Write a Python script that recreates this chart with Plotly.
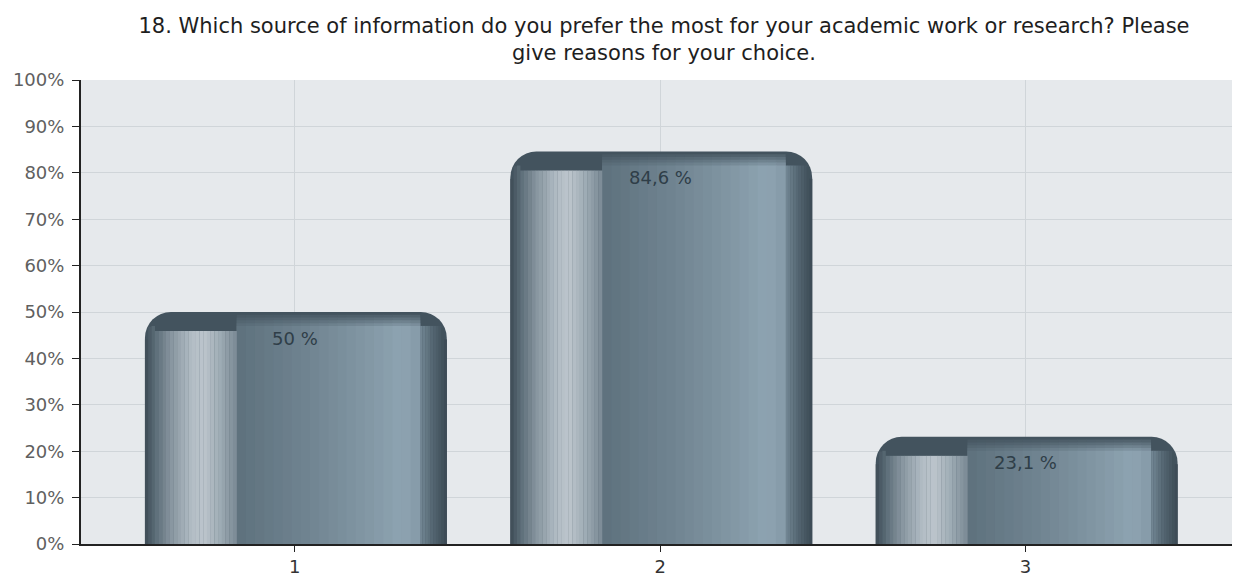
import math
import plotly.graph_objects as go

# data
categories = ["1", "2", "3"]
x_pos = [1, 2, 3]
percent = [50.0, 84.6, 23.1]
y_ticks = [0, 10, 20, 30, 40, 50, 60, 70, 80, 90, 100]
y_tick_text = [f"{v}%" for v in y_ticks]

title = ("18. Which source of information do you prefer the most for your academic work or research? Please"
         "<br>give reasons for your choice.")

FONT = "DejaVu Sans, Liberation Sans, Arial, sans-serif"
BASE = "#43535e"
PX_X = 365.5   # pixels per category step
PX_Y = 4.64    # pixels per percent
RADIUS = 26    # bar corner radius in px
BAR_L, BAR_R = -0.41, 0.416


def hex2rgb(h):
    h = h.lstrip("#")
    return [int(h[i:i + 2], 16) for i in (0, 2, 4)]


def blend(stops, t, dark=0.0):
    for (p0, c0), (p1, c1) in zip(stops[:-1], stops[1:]):
        if p0 <= t <= p1:
            f = (t - p0) / (p1 - p0) if p1 > p0 else 0
            a, b = hex2rgb(c0), hex2rgb(c1)
            c = [a[i] + (b[i] - a[i]) * f for i in range(3)]
            break
    else:
        c = hex2rgb(stops[-1][1])
    k = hex2rgb(BASE)
    c = [c[i] + (k[i] - c[i]) * dark for i in range(3)]
    return "rgb(%d,%d,%d)" % tuple(round(v) for v in c)


def round_drop(xa, xb, cx, r):
    # how far (in %) a stripe [xa, xb] must stay below the top to sit inside a corner of radius r centred at cx
    dx = max(abs(xa - cx), abs(xb - cx)) * PX_X
    if dx >= r:
        return r / PX_Y
    return (r - math.sqrt(r * r - dx * dx)) / PX_Y


def stripe_traces(x0, x1, stops, n, drop, dark=0.0, corner=None):
    out = []
    w = (x1 - x0) / n
    for i in range(n):
        xa, xb = x0 + w * i, x0 + w * (i + 1)
        d = drop
        if corner is not None:
            cx, r = corner
            if (cx > x0 and xa < cx) or (cx < x1 and xb > cx):
                d = max(drop, round_drop(xa, xb, cx, r) + 0.3)
        out.append(go.Bar(x=x_pos, y=[v - d for v in percent], offset=xa, width=w * 1.06,
                          marker=dict(color=blend(stops, (i + 0.5) / n, dark), line_width=0),
                          hoverinfo="skip", showlegend=False))
    return out


fig = go.Figure()

# body of the bar, rounded top
fig.add_trace(go.Bar(x=x_pos, y=percent, offset=BAR_L, width=BAR_R - BAR_L,
                     marker=dict(color=BASE, line_width=0, cornerradius=RADIUS),
                     hoverinfo="skip", showlegend=False))

left_c = (BAR_L + RADIUS / PX_X, RADIUS)
right_c = (BAR_R - RADIUS / PX_X, RADIUS)

# side edges
fig.add_traces(stripe_traces(BAR_L, -0.383, [(0, "#3d4b55"), (1, "#5a6b76")], 3, 3.0, corner=left_c))
fig.add_traces(stripe_traces(0.342, BAR_R, [(0, "#7d92a0"), (0.5, "#566874"), (1, "#3a4852")], 10, 3.0,
                             dark=0.15, corner=right_c))

# front face: a few layers going from dark at the top to the lit colour
face = [(0, "#5e717d"), (0.35, "#6e828f"), (0.7, "#8196a3"), (0.9, "#8ea4b2"), (1, "#8599a7")]
for drop, dark in [(0.6, 0.8), (1.2, 0.6), (1.8, 0.4), (2.4, 0.2), (3.0, 0.0)]:
    fig.add_traces(stripe_traces(-0.159, 0.342, face, 20, drop, dark))

# highlight column on the left, with a small rounded corner of its own
hl = [(0, "#5b6c77"), (0.2, "#8896a0"), (0.45, "#b2bdc5"), (0.6, "#bcc5cc"),
      (0.8, "#9dabb4"), (1, "#7a8994")]
fig.add_traces(stripe_traces(-0.383, -0.159, hl, 22, 4.1,
                             corner=(-0.383 + 10 / PX_X, 10)))

for x, v in zip(x_pos, percent):
    fig.add_annotation(x=x, y=v, yshift=-26, showarrow=False,
                       text=("%g %%" % v).replace(".", ","),
                       font=dict(size=18, color="#2f3e48", family=FONT))

fig.update_layout(
    barmode="overlay",
    width=1249, height=578,
    margin=dict(l=81, r=17, t=80, b=34, autoexpand=False),
    paper_bgcolor="white",
    plot_bgcolor="#e6e9ec",
    font=dict(family=FONT),
    title=dict(text=title, x=0.5065, xref="paper", xanchor="center",
               y=1 - 33 / 578, yref="container", yanchor="middle",
               font=dict(size=21, color="#1e1e1e")),
)
fig.update_xaxes(range=[0.415, 3.565], tickvals=x_pos, ticktext=categories,
                 showgrid=True, gridcolor="#d0d5d9", gridwidth=1,
                 showline=True, linecolor="#222", linewidth=1.5,
                 ticks="outside", ticklen=6, tickcolor="#222", automargin=False,
                 tickfont=dict(size=18, color="#333"), zeroline=False)
fig.update_yaxes(range=[0, 100], tickvals=y_ticks, ticktext=y_tick_text,
                 showgrid=True, gridcolor="#d0d5d9", gridwidth=1,
                 showline=True, linecolor="#222", linewidth=2,
                 ticks="outside", ticklen=7, tickcolor="#222", automargin=False,
                 ticklabelstandoff=4,
                 tickfont=dict(size=18, color="#606060"), zeroline=False)

fig.write_html("out.html", config={"displayModeBar": False},
               post_script="document.body.style.margin = '0';")
